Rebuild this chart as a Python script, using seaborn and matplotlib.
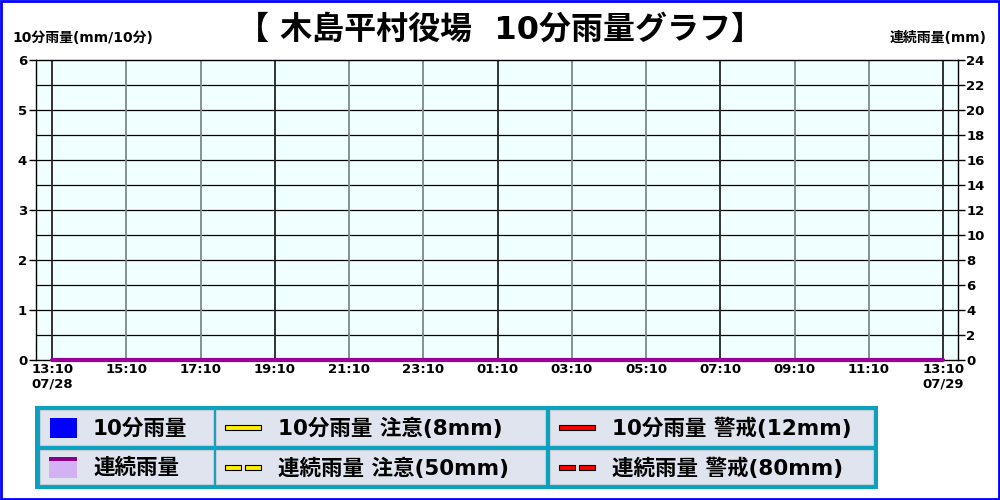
import numpy as np
import pandas as pd
import matplotlib
matplotlib.use('Agg')
import matplotlib.pyplot as plt
from matplotlib.patches import Rectangle
import seaborn as sns

# 10-minute steps from 07/28 13:10 to 07/29 13:10
times = pd.date_range('2024-07-28 13:10', '2024-07-29 13:10', freq='10min')
minutes = (times - times[0]).total_seconds() / 60

# readings (no rain over the whole day)
rain_10min = [0.0] * len(times)
rain_cum = [0.0] * len(times)

tick_labels = ['13:10\n07/28', '15:10', '17:10', '19:10', '21:10', '23:10', '01:10',
               '03:10', '05:10', '07:10', '09:10', '11:10', '13:10\n07/29']

title = '【 木島平村役場  10分雨量グラフ】'
left_label = '10分雨量(mm/10分)'
right_label = '連続雨量(mm)'

legend_rows = [
    [('box', '#0000ff', '10分雨量'), ('line', '#ffee00', '10分雨量 注意(8mm)'), ('line', '#ff0000', '10分雨量 警戒(12mm)')],
    [('area', '#d4b0f4', '連続雨量'), ('dash', '#ffee00', '連続雨量 注意(50mm)'), ('dash', '#ff0000', '連続雨量 警戒(80mm)')],
]

sns.set_style('white')
plt.rcParams['font.family'] = ['DejaVu Sans', 'Noto Sans CJK JP']
plt.rcParams['text.color'] = 'black'
plt.rcParams['xtick.color'] = 'black'
plt.rcParams['ytick.color'] = 'black'
plt.rcParams['xtick.labelcolor'] = 'black'
plt.rcParams['ytick.labelcolor'] = 'black'

fig = plt.figure(figsize=(10, 5), dpi=100)
fig.patch.set_facecolor('white')

ax = fig.add_axes([0.0355, 0.28, 0.9225, 0.60])
ax.set_facecolor('#f0ffff')

# 10 minute rainfall bars (left axis)
ax.bar(minutes, rain_10min, width=8, color='#0000ff', zorder=3)
ax.set_xlim(-27, 1440 + 24)
ax.set_ylim(0, 6)
ax.set_yticks(range(0, 7))
ax.set_xticks(range(0, 1441, 120))
ax.set_xticklabels(tick_labels)
ax.grid(False)
for y in np.arange(0.5, 6.0, 0.5):
    ax.axhline(y, color='black', lw=0.9, zorder=1)
for i, x in enumerate(range(0, 1441, 120)):
    ax.axvline(x, color='#222222' if i % 3 == 0 else '#7a8a8a', lw=1.3, zorder=1)

for s in ax.spines.values():
    s.set_color('black')
    s.set_linewidth(1)
ax.tick_params(axis='y', length=5, width=1, direction='out', left=True,
               pad=1, labelsize=9.5, colors='black')
ax.tick_params(axis='x', length=0, pad=2, labelsize=9.5, colors='black')
for lab in ax.get_xticklabels() + ax.get_yticklabels():
    lab.set_fontweight('bold')
    lab.set_linespacing(1.15)

# continuous rainfall (right axis)
ax2 = ax.twinx()
sns.lineplot(x=minutes, y=rain_cum, ax=ax2, color='#990099', lw=3, zorder=5, clip_on=False)
ax2.set_ylim(0, 24)
ax2.set_yticks(range(0, 25, 2))
ax2.tick_params(axis='y', length=5, width=1, direction='out', right=True, pad=1,
                labelsize=9.5, colors='black')
for lab in ax2.get_yticklabels():
    lab.set_fontweight('bold')
for s in ax2.spines.values():
    s.set_visible(False)

fig.text(0.5, 0.94, title, ha='center', va='center', fontsize=23, fontweight='bold')
fig.text(0.012, 0.925, left_label, ha='left', va='center', fontsize=10, fontweight='bold')
fig.text(0.987, 0.925, right_label, ha='right', va='center', fontsize=10, fontweight='bold')

# legend table drawn in pixel coordinates
lg = fig.add_axes([0, 0, 1, 1], zorder=10)
lg.set_xlim(0, 1000)
lg.set_ylim(500, 0)
lg.axis('off')
lg.patch.set_alpha(0)

lg.add_patch(Rectangle((35, 406), 843, 83, facecolor='#0aa0c0', edgecolor='none'))
col_x = [(40, 213), (216, 545), (550, 873)]
row_y = [(410, 445), (450, 484)]
for r, row in enumerate(legend_rows):
    y0, y1 = row_y[r]
    yc = (y0 + y1) / 2
    for c, (kind, col, text) in enumerate(row):
        x0, x1 = col_x[c]
        lg.add_patch(Rectangle((x0, y0), x1 - x0, y1 - y0, facecolor='#dfe4ee',
                               edgecolor='#c8ced8', lw=0.8))
        if kind == 'box':
            lg.add_patch(Rectangle((50, yc - 10), 27, 20, facecolor=col, edgecolor='none'))
            tx = 93
        elif kind == 'area':
            lg.add_patch(Rectangle((49, yc - 10), 28, 21, facecolor=col, edgecolor='none'))
            lg.add_patch(Rectangle((49, yc - 10), 28, 4, facecolor='#880088', edgecolor='none'))
            tx = 93
        elif kind == 'line':
            lx = x0 + 9
            lg.add_patch(Rectangle((lx, yc - 2.5), 36, 5, facecolor=col, edgecolor='black', lw=0.8))
            tx = x0 + 62
        else:
            lx = x0 + 9
            lg.add_patch(Rectangle((lx, yc - 2.5), 16, 5, facecolor=col, edgecolor='black', lw=0.8))
            lg.add_patch(Rectangle((lx + 20, yc - 2.5), 16, 5, facecolor=col, edgecolor='black', lw=0.8))
            tx = x0 + 62
        lg.text(tx, yc + 1, text, ha='left', va='center', fontsize=15.5, fontweight='bold',
                color='black')

# blue frame around the image
lg.add_patch(Rectangle((1, 1), 998, 498, facecolor='none', edgecolor='#0000ff', lw=2))

fig.savefig('out.png', dpi=100)
